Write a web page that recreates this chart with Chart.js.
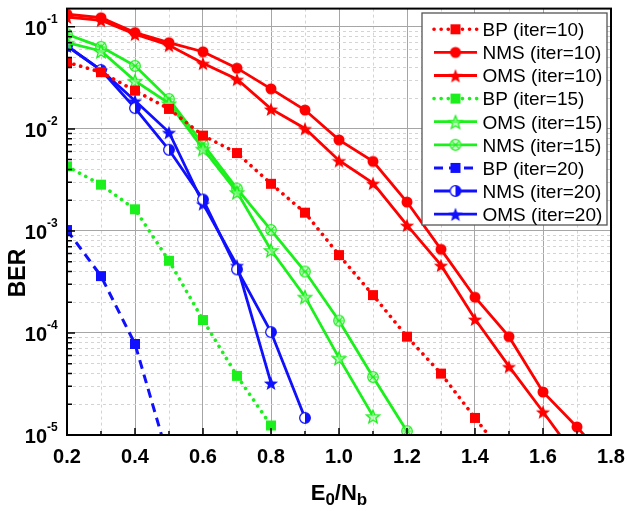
<!DOCTYPE html>
<html lang="en">
<head>
<meta charset="UTF-8">
<title>BER vs E0/Nb</title>
<script src="https://cdn.jsdelivr.net/npm/chart.js"></script>
<style>
    html, body { margin: 0; padding: 0; background: #fff; }
    .chart-container { position: relative; width: 627px; height: 511px; }
</style>
</head>
<body>
<div class="chart-container"><canvas id="berChart"></canvas></div>
<script>
// E0/Nb steps (x axis) - each series starts at 0.2
const ebno = [0.2, 0.3, 0.4, 0.5, 0.6, 0.7, 0.8, 0.9, 1.0, 1.1, 1.2, 1.3, 1.4, 1.5, 1.6, 1.7, 1.8];
const xTickLabels = ["0.2", "0.4", "0.6", "0.8", "1.0", "1.2", "1.4", "1.6", "1.8"];
const yDecades = [-5, -4, -3, -2, -1];

const bp10  = [0.045, 0.036, 0.0237, 0.0157, 0.0086, 0.0058, 0.0029, 0.00151, 0.00058, 0.000235, 0.000092, 0.00004, 0.0000147, 0.0000055];
const nms10 = [0.133, 0.123, 0.088, 0.070, 0.057, 0.0394, 0.0247, 0.0153, 0.0078, 0.0048, 0.00192, 0.00066, 0.000224, 0.000092, 0.0000264, 0.000012, 0.000005];
const oms10 = [0.125, 0.116, 0.085, 0.066, 0.044, 0.0307, 0.0157, 0.0101, 0.0049, 0.00294, 0.00114, 0.000462, 0.000137, 0.000047, 0.0000169, 0.0000059];
const bp15  = [0.0043, 0.00284, 0.00163, 0.00051, 0.000134, 0.000038, 0.0000124];
const oms15 = [0.070, 0.058, 0.0296, 0.0178, 0.0064, 0.0024, 0.00065, 0.000227, 0.000057, 0.0000153];
const nms15 = [0.0847, 0.0637, 0.0415, 0.0196, 0.0071, 0.0026, 0.00102, 0.0004, 0.000132, 0.000037, 0.0000109];
const bp20  = [0.00102, 0.000361, 0.000078, 0.0000056];
const nms20 = [0.065, 0.0377, 0.016, 0.00624, 0.00203, 0.00042, 0.000102, 0.0000147];
const oms20 = [0.065, 0.0377, 0.0189, 0.00927, 0.00185, 0.00046, 0.0000324];

const RED = "#ff0000", GREEN = "#1cf01c", BLUE = "#1010ff";
const FONT = "Arial, 'Liberation Sans', sans-serif";

// small canvases used as point styles
function marker(size, draw) {
    const c = document.createElement("canvas");
    c.width = size; c.height = size;
    draw(c.getContext("2d"), size / 2);
    return c;
}
function starPath(g, c, ro, ri) {
    g.beginPath();
    for (let i = 0; i < 10; i++) {
        const r = i % 2 ? ri : ro;
        const a = -Math.PI / 2 + i * Math.PI / 5;
        g.lineTo(c + r * Math.cos(a), c + 1 + r * Math.sin(a));
    }
    g.closePath();
}
const squareMk = col => marker(12, (g, c) => { g.fillStyle = col; g.fillRect(c - 5, c - 5, 10, 10); });
const circleMk = col => marker(14, (g, c) => { g.fillStyle = col; g.beginPath(); g.arc(c, c, 5.5, 0, Math.PI * 2); g.fill(); });
const starMk = col => marker(18, (g, c) => { g.fillStyle = col; starPath(g, c, 7.5, 3.2); g.fill(); });
const hollowStarMk = col => marker(18, (g, c) => {
    g.fillStyle = "rgba(160,255,160,0.6)"; g.strokeStyle = col; g.lineWidth = 1.3;
    starPath(g, c, 7, 3); g.fill(); g.stroke();
});
const crossCircleMk = col => marker(14, (g, c) => {
    g.strokeStyle = col; g.lineWidth = 1.2; g.fillStyle = "rgba(200,255,200,0.6)";
    g.beginPath(); g.arc(c, c, 5.3, 0, Math.PI * 2); g.fill(); g.stroke();
    g.beginPath();
    g.moveTo(c - 3.6, c - 3.6); g.lineTo(c + 3.6, c + 3.6);
    g.moveTo(c + 3.6, c - 3.6); g.lineTo(c - 3.6, c + 3.6);
    g.moveTo(c - 4.5, c); g.lineTo(c + 4.5, c);
    g.stroke();
});
const halfCircleMk = col => marker(14, (g, c) => {
    g.fillStyle = "#fff"; g.beginPath(); g.arc(c, c, 5.3, 0, Math.PI * 2); g.fill();
    g.fillStyle = col; g.beginPath(); g.arc(c, c, 5.3, -Math.PI / 2, Math.PI / 2); g.closePath(); g.fill();
    g.strokeStyle = col; g.lineWidth = 1.3; g.beginPath(); g.arc(c, c, 5.3, 0, Math.PI * 2); g.stroke();
});

const DOTTED = [0.1, 7], DASHED = [9, 6];

function series(label, vals, color, dash, pointStyle, width) {
    return {
        label: label,
        data: vals.map((v, i) => ({ x: ebno[i], y: v })),
        borderColor: color,
        backgroundColor: color,
        borderWidth: width || 2.8,
        borderDash: dash,
        borderCapStyle: dash === DOTTED ? "round" : "butt",
        pointStyle: pointStyle,
        pointRadius: 5,
        tension: 0,
        fill: false
    };
}

const datasets = [
    series("BP (iter=10)",  bp10,  RED,   DOTTED, squareMk(RED), 3.6),
    series("NMS (iter=10)", nms10, RED,   [],     circleMk(RED)),
    series("OMS (iter=10)", oms10, RED,   [],     starMk(RED)),
    series("BP (iter=15)",  bp15,  GREEN, DOTTED, squareMk(GREEN), 3.6),
    series("OMS (iter=15)", oms15, GREEN, [],     hollowStarMk(GREEN)),
    series("NMS (iter=15)", nms15, GREEN, [],     crossCircleMk(GREEN)),
    series("BP (iter=20)",  bp20,  BLUE,  DASHED, squareMk(BLUE), 3),
    series("NMS (iter=20)", nms20, BLUE,  [],     halfCircleMk(BLUE)),
    series("OMS (iter=20)", oms20, BLUE,  [],     starMk(BLUE))
];

const isMajorX = v => Math.round(v * 10) % 2 === 0;
const isDecade = v => Math.abs(Math.log10(v) - Math.round(Math.log10(v))) < 1e-6;

// frame, inward ticks, tick labels, titles and legend
const decorPlugin = {
    id: "decor",
    afterDraw(chart) {
        const ctx = chart.ctx, a = chart.chartArea;
        const xs = chart.scales.x, ys = chart.scales.y;
        ctx.save();
        ctx.strokeStyle = "#000";
        ctx.lineWidth = 1.5;
        ctx.beginPath();
        xs.ticks.forEach(t => {
            const px = xs.getPixelForValue(t.value);
            const len = isMajorX(t.value) ? 7 : 4;
            ctx.moveTo(px, a.bottom); ctx.lineTo(px, a.bottom - len);
        });
        ys.ticks.forEach(t => {
            const py = ys.getPixelForValue(t.value);
            const len = isDecade(t.value) ? 8 : 5;
            ctx.moveTo(a.left, py); ctx.lineTo(a.left + len, py);
        });
        ctx.stroke();
        ctx.lineWidth = 2;
        ctx.strokeRect(a.left, a.top, a.right - a.left, a.bottom - a.top);

        // tick labels
        ctx.fillStyle = "#000";
        ctx.textAlign = "center";
        ctx.textBaseline = "alphabetic";
        ctx.font = "bold 20px " + FONT;
        xTickLabels.forEach(l => {
            ctx.fillText(l, xs.getPixelForValue(parseFloat(l)), a.bottom + 28);
        });
        yDecades.forEach(e => {
            const py = ys.getPixelForValue(Math.pow(10, e));
            ctx.textAlign = "right";
            ctx.font = "bold 20px " + FONT;
            ctx.fillText("10", 47, py + 8);
            ctx.textAlign = "left";
            ctx.font = "bold 12px " + FONT;
            ctx.fillText(String(e), 47, py - 4);
        });

        // x title E0/Nb with subscripts
        const parts = [["E", 22, 0], ["0", 17, 5], ["/N", 22, 0], ["b", 17, 5]];
        let total = 0;
        parts.forEach(p => { ctx.font = "bold " + p[1] + "px " + FONT; total += ctx.measureText(p[0]).width; });
        let tx = (a.left + a.right) / 2 - total / 2;
        ctx.textAlign = "left";
        parts.forEach(p => {
            ctx.font = "bold " + p[1] + "px " + FONT;
            ctx.fillText(p[0], tx, 499.5 + p[2]);
            tx += ctx.measureText(p[0]).width;
        });

        // y title
        ctx.save();
        ctx.translate(19, 273);
        ctx.rotate(-Math.PI / 2);
        ctx.textAlign = "center";
        ctx.textBaseline = "middle";
        ctx.font = "bold 23px " + FONT;
        ctx.fillText("BER", 0, 0);
        ctx.restore();

        // legend box
        const lx = 422, ly = 13, lw = 185, lh = 212;
        ctx.fillStyle = "#fff";
        ctx.fillRect(lx, ly, lw, lh);
        ctx.strokeStyle = "#555";
        ctx.lineWidth = 1.3;
        ctx.strokeRect(lx, ly, lw, lh);
        chart.data.datasets.forEach((ds, i) => {
            const cy = 29.3 + i * 23.1;
            ctx.save();
            ctx.strokeStyle = ds.borderColor;
            ctx.lineWidth = ds.borderWidth;
            ctx.setLineDash(ds.borderDash);
            ctx.lineCap = ds.borderCapStyle;
            ctx.beginPath();
            ctx.moveTo(434, cy); ctx.lineTo(477, cy);
            ctx.stroke();
            ctx.restore();
            const img = ds.pointStyle;
            ctx.drawImage(img, 455.5 - img.width / 2, cy - img.height / 2);
            ctx.fillStyle = "#000";
            ctx.textAlign = "left";
            ctx.textBaseline = "alphabetic";
            ctx.font = "19px " + FONT;
            ctx.fillText(ds.label, 482.5, cy + 6.8);
        });
        ctx.restore();
    }
};

new Chart(document.getElementById("berChart"), {
    type: "line",
    data: { datasets: datasets },
    options: {
        responsive: true,
        maintainAspectRatio: false,
        animation: false,
        layout: { padding: { top: 8, right: 16, left: 0, bottom: 0 } },
        plugins: { legend: { display: false }, tooltip: { enabled: false } },
        scales: {
            x: {
                type: "linear",
                min: 0.2,
                max: 1.8,
                afterBuildTicks: scale => { scale.ticks = ebno.map(v => ({ value: v })); },
                afterFit: scale => { scale.height = 76; },
                ticks: { display: false },
                grid: {
                    drawTicks: false,
                    lineWidth: 1,
                    color: c => (c.tick && isMajorX(c.tick.value)) ? "#a6a6a6" : "#d4d4d4"
                },
                border: {
                    display: false,
                    dash: c => (c.tick && !isMajorX(c.tick.value)) ? [3, 3] : []
                }
            },
            y: {
                type: "logarithmic",
                min: 1e-5,
                max: 0.151,
                afterBuildTicks: scale => {
                    const t = [];
                    yDecades.forEach(e => {
                        for (let k = 1; k <= 9; k++) {
                            const v = Number((k * Math.pow(10, e)).toPrecision(3));
                            if (v <= 0.151) t.push({ value: v });
                        }
                    });
                    scale.ticks = t;
                },
                afterFit: scale => { scale.width = 67; },
                ticks: { display: false },
                grid: {
                    drawTicks: false,
                    lineWidth: 1,
                    color: c => (c.tick && isDecade(c.tick.value)) ? "#a6a6a6" : "#d4d4d4"
                },
                border: {
                    display: false,
                    dash: c => (c.tick && !isDecade(c.tick.value)) ? [3, 3] : []
                }
            }
        }
    },
    plugins: [decorPlugin]
});
</script>
</body>
</html>
